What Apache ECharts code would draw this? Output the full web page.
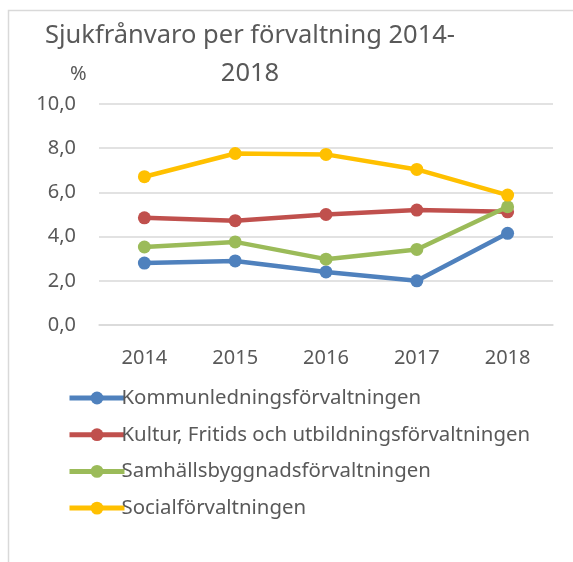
<!DOCTYPE html>
<html>
<head>
<meta charset="utf-8">
<script src="https://cdn.jsdelivr.net/npm/echarts@6/dist/echarts.min.js"></script>
<style>
	html, body { margin: 0; padding: 0; background: #fff; }
	#chart { width: 573px; height: 562px; }
</style>
</head>
<body>
<div id="chart"></div>
<script>
	'use strict';

	/* data */
	var years = ['2014', '2015', '2016', '2017', '2018'];
	var kommunledning = [2.8, 2.9, 2.4, 2.0, 4.15];
	var kultur = [4.85, 4.72, 5.0, 5.2, 5.12];
	var samhallsbygg = [3.53, 3.76, 2.98, 3.42, 5.35];
	var social = [6.71, 7.76, 7.72, 7.04, 5.88];
	var seriesNames = [
		'Kommunledningsförvaltningen',
		'Kultur, Fritids och utbildningsförvaltningen',
		'Samhällsbyggnadsförvaltningen',
		'Socialförvaltningen'
	];
	var colors = ['#4f81bd', '#c0504d', '#9bbb59', '#ffc000'];

	var font = 'Noto Sans';
	var textColor = '#595959';

	var chartdata = [kommunledning, kultur, samhallsbygg, social].map(function(values, i) {
		return {
			name: seriesNames[i],
			type: 'line',
			data: values,
			symbol: 'circle',
			symbolSize: 13,
			lineStyle: { width: 4.5 },
			z: 2 + i
		};
	});

	var chart = echarts.init(document.getElementById('chart'));
	var option = {
		animation: false,
		color: colors,
		title: {
			text: 'Sjukfrånvaro per förvaltning 2014-\n2018',
			left: 245,
			top: 12,
			textAlign: 'center',
			textStyle: {
				fontFamily: font,
				fontSize: 25.5,
				fontWeight: 'normal',
				color: textColor,
				lineHeight: 38
			}
		},
		graphic: [
			{
				type: 'rect',
				shape: { x: 8.5, y: 10.5, width: 700, height: 700 },
				style: { fill: 'none', stroke: '#d9d9d9', lineWidth: 1.5 },
				silent: true
			},
			{
				type: 'text',
				left: 70,
				top: 64,
				style: { text: '%', fontFamily: font, fontSize: 20, fill: textColor }
			}
		],
		grid: {
			left: 99,
			right: 20,
			top: 104,
			bottom: 237
		},
		xAxis: {
			type: 'category',
			data: years,
			axisLine: { lineStyle: { color: '#d9d9d9', width: 1.5 } },
			axisTick: { show: false },
			axisLabel: {
				margin: 23,
				fontFamily: font,
				fontSize: 20,
				color: textColor
			}
		},
		yAxis: {
			type: 'value',
			min: 0,
			max: 10,
			interval: 2,
			axisLine: { show: false },
			axisTick: { show: false },
			splitLine: { lineStyle: { color: '#d9d9d9', width: 1.5 } },
			axisLabel: {
				margin: 23,
				fontFamily: font,
				fontSize: 20,
				color: textColor,
				formatter: function(v) { return v.toFixed(1).replace('.', ','); }
			}
		},
		legend: {
			orient: 'vertical',
			left: 62,
			top: 381,
			itemWidth: 55,
			itemHeight: 16,
			itemGap: 12.7,
			lineStyle: { width: 5 },
			textStyle: {
				fontFamily: font,
				fontSize: 20.4,
				lineHeight: 24,
				color: textColor,
				padding: [0, 0, 0, -8]
			},
			data: seriesNames
		},
		series: chartdata
	};
	chart.setOption(option);
</script>
</body>
</html>
